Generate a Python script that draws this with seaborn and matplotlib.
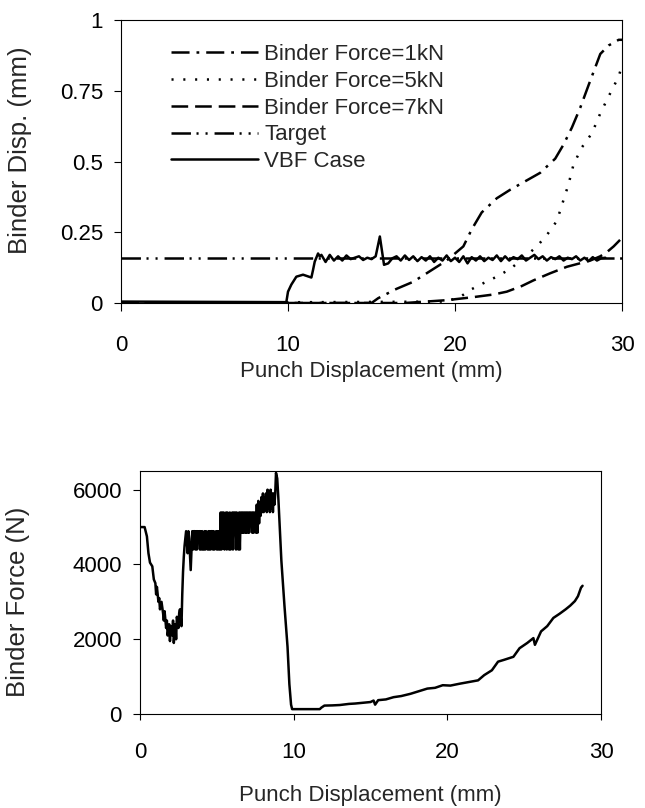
import numpy as np
import matplotlib
matplotlib.use("Agg")
import matplotlib.pyplot as plt
import seaborn as sns

sns.set_style("ticks")
plt.rcParams['font.family'] = ['Liberation Sans', 'DejaVu Sans']
plt.rcParams['lines.scale_dashes'] = False

# ---------------- top chart data (Binder Disp.) ----------------
bf1_x = [0, 15.0, 15.4, 16.5, 17.5, 18.7, 19.5, 20.5, 21.0, 21.6, 22.5, 23.3, 23.9, 25.1, 26.0, 26.5, 27.0, 27.5, 28.0, 28.7, 29.2, 29.8, 30]
bf1_y = [0, 0, 0.017, 0.05, 0.075, 0.12, 0.15, 0.2, 0.26, 0.32, 0.37, 0.40, 0.42, 0.46, 0.51, 0.56, 0.62, 0.69, 0.77, 0.88, 0.91, 0.93, 0.93]

bf5_x = [0, 19.5, 20.4, 20.9, 21.7, 22.5, 23.3, 24.1, 24.9, 25.5, 26.1, 26.8, 27.1, 27.6, 28.2, 28.7, 29.2, 29.8, 30]
bf5_y = [0, 0.005, 0.025, 0.046, 0.07, 0.093, 0.12, 0.158, 0.2, 0.24, 0.29, 0.42, 0.49, 0.55, 0.60, 0.67, 0.73, 0.80, 0.84]

bf7_x = [0, 17.0, 19.5, 21.0, 22.3, 23.1, 24.0, 24.7, 25.7, 26.7, 28.1, 28.7, 29.1, 29.5, 30]
bf7_y = [0, 0, 0.01, 0.02, 0.03, 0.04, 0.06, 0.08, 0.105, 0.128, 0.15, 0.165, 0.18, 0.2, 0.23]

target_x = [0, 30]
target_y = [0.16, 0.16]

vbf_rise_x = [0, 9.9, 10.0, 10.2, 10.5, 10.9, 11.4, 11.5, 11.6, 11.8, 11.9]
vbf_rise_y = [0.005, 0.003, 0.04, 0.065, 0.093, 0.1, 0.09, 0.117, 0.146, 0.175, 0.165]
# readings every 0.25 mm from 12.0 to 29.0
vbf_noise_y = [0.17, 0.145, 0.17, 0.15, 0.165, 0.15, 0.168, 0.155, 0.16, 0.165,
               0.152, 0.16, 0.155, 0.165, 0.235, 0.135, 0.14, 0.158, 0.165, 0.15,
               0.168, 0.152, 0.165, 0.148, 0.162, 0.15, 0.165, 0.145, 0.16, 0.15,
               0.168, 0.148, 0.16, 0.145, 0.165, 0.14, 0.162, 0.15, 0.165, 0.148,
               0.16, 0.152, 0.168, 0.148, 0.165, 0.15, 0.162, 0.155, 0.168, 0.15,
               0.16, 0.17, 0.155, 0.165, 0.15, 0.162, 0.155, 0.165, 0.15, 0.16,
               0.155, 0.165, 0.15, 0.16, 0.148, 0.162, 0.15, 0.158, 0.16]
vbf_noise_start, vbf_noise_step = 12.0, 0.25

top_xticks = [0, 10, 20, 30]
top_yticks = [0, 0.25, 0.5, 0.75, 1]
top_yticklabels = ["0", "0.25", "0.5", "0.75", "1"]

# ---------------- bottom chart data (Binder Force) ----------------
force_a_x = [0, 0.3, 0.45, 0.55, 0.65, 0.8, 0.9, 1.0, 1.05, 1.1, 1.2, 1.25, 1.3, 1.4, 1.5, 1.55, 1.6,
             1.7, 1.75, 1.8, 1.9, 1.95, 2.0, 2.1, 2.15, 2.2, 2.3, 2.35, 2.4, 2.5, 2.55, 2.6, 2.7,
             2.75, 2.8, 2.85, 2.9, 3.0]
force_a_y = [5000, 5000, 4750, 4300, 4050, 3950, 3600, 3500, 3200, 3400, 3000, 3100, 2800, 3000,
             2700, 2500, 2750, 2300, 2500, 2100, 2400, 1950, 2350, 2100, 2500, 1900, 2400, 2000,
             2600, 2300, 2700, 2800, 2350, 3200, 3800, 4200, 4500, 4890]
# readings every 0.05 mm from 3.10 to 8.80
force_b_y = [4300, 4890, 4700, 4300, 3850, 4400, 4890, 4400, 4890, 4890,
             4400, 4890, 4400, 4890, 4650, 4890, 4400, 4890,
             4400, 4890, 4400, 4400, 4890, 4400, 4890, 4650, 4400, 4890,
             4400, 4890, 4400, 4890, 4890, 4400, 4890, 4400, 4650, 4890,
             4400, 4890, 4400, 4890, 4400, 5390, 4400, 5390, 4650, 5390,
             4400, 4890, 5390, 4400, 5390, 4850, 4400, 5390, 4400, 5100,
             5390, 4400, 5390, 4850, 5390, 4400, 5390, 4850, 4400, 5390,
             4400, 5390, 4850, 5390, 4850, 5390, 4850, 5390, 4850, 5390,
             4850, 5390, 4850, 5390, 5100, 5390, 4850, 5390, 4850, 5390,
             5200, 4850, 5600, 4850, 5700, 5100, 5600, 5300, 5800, 5400,
             5900, 5400, 5800, 5500, 5900, 5400, 6000, 5500, 5900, 5400,
             6000, 5500, 5900, 5400, 5900, 5600, 5900]
force_b_start, force_b_step = 3.1, 0.05
force_c_x = [8.85, 8.93, 9.0, 9.2, 9.4, 9.6, 9.72, 9.83, 9.9, 11.7, 11.8, 12.0, 12.5, 13.0, 13.6,
             14.0, 15.0, 15.2, 15.3, 15.5, 16.0, 16.5, 17.0, 17.6, 18.0, 18.7, 19.2, 19.7, 20.2,
             20.8, 21.6, 22.0, 22.4, 22.9, 23.3, 23.7, 24.3, 24.7, 25.2, 25.6, 25.7, 26.1, 26.5,
             26.9, 27.3, 27.7, 28.0, 28.3, 28.5, 28.7, 28.8]
force_c_y = [6450, 6300, 5800, 4100, 2900, 1800, 800, 250, 130, 130, 170, 225, 230, 240, 270,
             280, 320, 360, 250, 370, 390, 450, 480, 540, 590, 680, 700, 770, 760,
             810, 870, 900, 1040, 1170, 1400, 1450, 1530, 1760, 1900, 2030, 1850, 2210, 2350,
             2570, 2680, 2800, 2900, 3020, 3150, 3380, 3430]

bot_xticks = [0, 10, 20, 30]
bot_yticks = [0, 2000, 4000, 6000]

# ---------------- build series ----------------
vbf_x = list(vbf_rise_x) + [vbf_noise_start + vbf_noise_step * i for i in range(len(vbf_noise_y))]
vbf_y = list(vbf_rise_y) + list(vbf_noise_y)
force_x = list(force_a_x) + [force_b_start + force_b_step * i for i in range(len(force_b_y))] + list(force_c_x)
force_y = list(force_a_y) + list(force_b_y) + list(force_c_y)

W, H = 645, 808
fig = plt.figure(figsize=(W / 100, H / 100), dpi=100)
FS = 16
FSY = 18.5

ax1 = fig.add_axes([121 / W, 1 - 303 / H, 501 / W, 283 / H])
ax2 = fig.add_axes([140 / W, 1 - 714 / H, 461 / W, 243 / H])

lw = 1.8
sns.lineplot(x=bf1_x, y=bf1_y, ax=ax1, color="black", lw=lw, sort=False, estimator=None,
             linestyle=(0, (13, 5, 2, 5)), label="Binder Force=1kN")
sns.lineplot(x=bf5_x, y=bf5_y, ax=ax1, color="black", lw=lw, sort=False, estimator=None,
             linestyle=(0, (1.5, 7)), label="Binder Force=5kN")
sns.lineplot(x=bf7_x, y=bf7_y, ax=ax1, color="black", lw=lw, sort=False, estimator=None,
             linestyle=(0, (12, 5)), label="Binder Force=7kN")
sns.lineplot(x=target_x, y=target_y, ax=ax1, color="black", lw=lw, sort=False, estimator=None,
             linestyle=(0, (14, 4, 1.5, 5, 1.5, 5)), label="Target")
sns.lineplot(x=vbf_x, y=vbf_y, ax=ax1, color="black", lw=lw, sort=False, estimator=None,
             linestyle="-", label="VBF Case")

sns.lineplot(x=force_x, y=force_y, ax=ax2, color="black", lw=1.8, sort=False, estimator=None,
             linestyle="-", legend=False)

for ax in (ax1, ax2):
    for s in ax.spines.values():
        s.set_visible(True)
        s.set_color("black")
        s.set_linewidth(0.8)
    ax.set_xlim(0, 30)
    ax.tick_params(axis="both", labelsize=FS, direction="out", width=0.8, colors="black")

ax1.set_ylim(0, 1)
ax1.set_xticks(top_xticks)
ax1.set_yticks(top_yticks)
ax1.set_yticklabels(top_yticklabels)
ax1.tick_params(axis="x", length=6, pad=17)
ax1.tick_params(axis="y", length=5, pad=8)
ax1.set_xlabel("Punch Displacement (mm)", fontsize=FS, labelpad=4)
ax1.set_ylabel("Binder Disp. (mm)", fontsize=FSY)
ax1.yaxis.set_label_coords(-0.178, 0.54)

leg = ax1.legend(loc="upper left", bbox_to_anchor=(0.1, 0.915), frameon=False, fontsize=FS,
                 handlelength=3.9, handletextpad=0.3, labelspacing=0.26, borderpad=0,
                 borderaxespad=0)

ax2.set_ylim(0, 6500)
ax2.set_xticks(bot_xticks)
ax2.set_yticks(bot_yticks)
ax2.tick_params(axis="x", length=4, pad=16)
ax2.tick_params(axis="y", length=5, pad=8)
ax2.set_xlabel("Punch Displacement (mm)", fontsize=FS, labelpad=16)
ax2.set_ylabel("Binder Force (N)", fontsize=FSY)
ax2.yaxis.set_label_coords(-0.239, 0.46)

fig.savefig("out.png", dpi=100)
